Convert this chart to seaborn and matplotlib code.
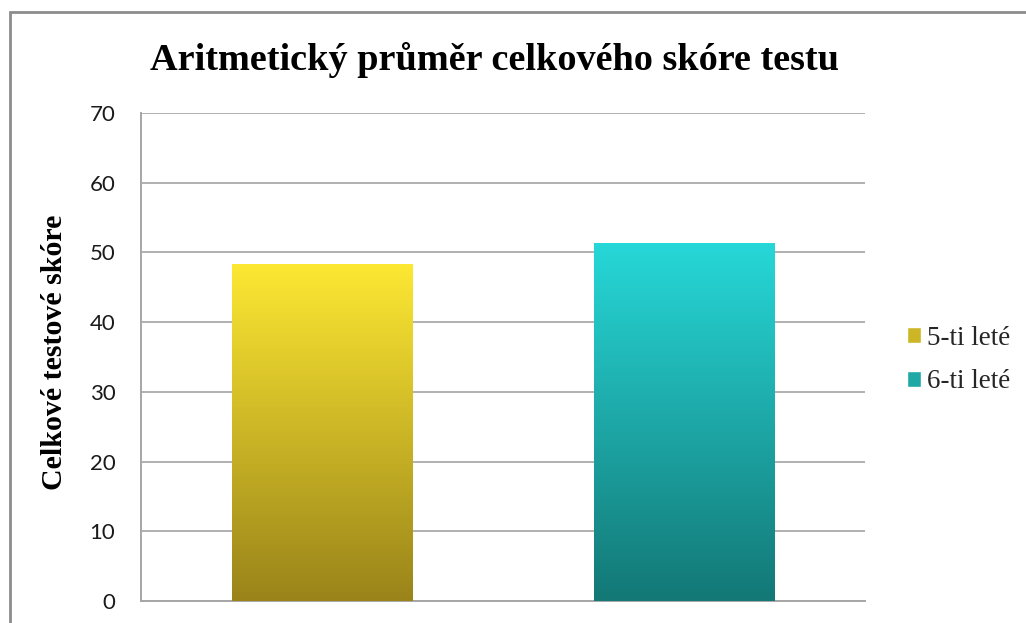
import numpy as np
import pandas as pd
import matplotlib
matplotlib.use("Agg")
import matplotlib.pyplot as plt
import seaborn as sns
from matplotlib.patches import Rectangle
from matplotlib.colors import LinearSegmentedColormap

# Data
groups = ["5-ti leté", "6-ti leté"]
scores = [48.4, 51.4]
top_colors = ["#FDE833", "#27D8D8"]
bottom_colors = ["#9A841A", "#137876"]
yticks = [0, 10, 20, 30, 40, 50, 60, 70]
title = "Aritmetický průměr celkového skóre testu"
ylabel = "Celkové testové skóre"

sns.set_theme(style="white")
plt.rcParams['font.family'] = ['Liberation Serif', 'DejaVu Serif']

df = pd.DataFrame({"skupina": groups, "skore": scores})

fig = plt.figure(figsize=(10.26, 6.23), dpi=100)
ax = fig.add_axes([141/1026, 1-601/623, (865-141)/1026, (601-113)/623])

sns.barplot(data=df, x="skupina", y="skore", hue="skupina",
            palette=dict(zip(groups, top_colors)), width=0.5,
            dodge=False, legend=False, ax=ax, zorder=3)

# gradient fill
for patch, c_top, c_bot in zip(ax.patches, top_colors, bottom_colors):
    x0, y0 = patch.get_x(), patch.get_y()
    w, h = patch.get_width(), patch.get_height()
    cmap = LinearSegmentedColormap.from_list("g", [c_bot, c_top])
    grad = np.linspace(0, 1, 256).reshape(-1, 1)
    im = ax.imshow(grad, cmap=cmap, aspect="auto", origin="lower",
                   extent=[x0, x0 + w, y0, y0 + h], zorder=3)
    im.set_clip_path(patch)
    patch.set_facecolor("none")
    patch.set_edgecolor("none")

ax.set_xlim(-0.5, 1.5)
ax.set_ylim(0, 70)
ax.set_yticks(yticks)
ax.set_xticks([])
ax.set_xlabel("")
ax.yaxis.grid(True, color="#B0B0B0", linewidth=1.4, zorder=0)
ax.set_axisbelow(True)
for s in ["top", "right"]:
    ax.spines[s].set_visible(False)
for s in ["left", "bottom"]:
    ax.spines[s].set_color("#A6A6A6")
    ax.spines[s].set_linewidth(1.4)
ax.tick_params(axis="y", length=0, pad=18.5, labelsize=16, labelcolor="#1a1a1a")
for lab in ax.get_yticklabels():
    lab.set_family(["Lato", "DejaVu Sans"])

ax.set_ylabel(ylabel, fontsize=21.5, fontweight="bold", color="black")
ax.yaxis.set_label_coords((68 - 141) / 724, (601 - 352) / 488)

fig.text(494/1026, 1 - 60/623, title, ha="center", va="center",
         fontsize=27.5, fontweight="bold", color="black")

handles = [Rectangle((0, 0), 1, 1, facecolor=c) for c in
           ["#CDB626", "#1FA8A6"]]
fig.legend(handles, groups, loc="center left",
           bbox_to_anchor=(907/1026, 1 - 360/623), frameon=False,
           fontsize=19.5, handlelength=0.5, handleheight=0.5,
           handletextpad=0.25, labelspacing=0.7, borderpad=0,
           borderaxespad=0)

# outer border
fig.add_artist(Rectangle((10/1026, -0.1), 1.2, (623 - 12)/623 + 0.1,
                         transform=fig.transFigure, fill=False,
                         edgecolor="#8C8C8C", linewidth=2))

fig.savefig("out.png", dpi=100)
